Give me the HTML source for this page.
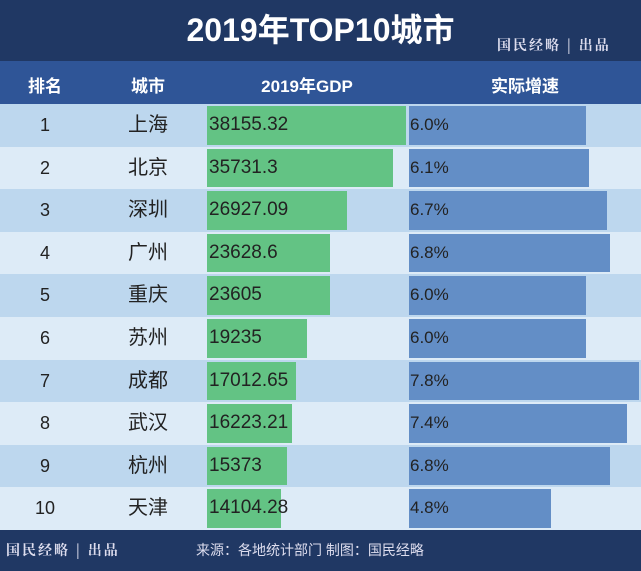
<!DOCTYPE html>
<html><head><meta charset="utf-8">
<style>
body{margin:0;width:641px;height:571px;overflow:hidden;background:#fff;font-family:"Liberation Sans","Noto Sans CJK SC",sans-serif;}
#wrap{position:relative;width:641px;height:571px;}
.abs{position:absolute;}
</style></head><body>
<div id="wrap">
  <div class="abs" style="left:0;top:0;width:641px;height:61px;background:#203864;"></div>
  <div class="abs" style="left:0;top:10px;width:641px;text-align:center;color:#fff;font-size:32px;line-height:40px;font-weight:bold;">2019年TOP10城市</div>
  <div class="abs" style="left:497px;top:36px;color:#dde;font-size:14px;line-height:18px;font-family:'Noto Serif CJK SC',serif;font-weight:bold;letter-spacing:2px;">国民经略 | 出品</div>
  <div class="abs" style="left:0;top:61px;width:641px;height:43px;background:#2f5597;"></div>
  <div class="abs" style="left:0;top:72px;width:90px;text-align:center;color:#fff;font-size:17px;font-weight:bold;">排名</div>
  <div class="abs" style="left:100px;top:72px;width:96px;text-align:center;color:#fff;font-size:17px;font-weight:bold;">城市</div>
  <div class="abs" style="left:207px;top:72px;width:200px;text-align:center;color:#fff;font-size:17px;font-weight:bold;">2019年GDP</div>
  <div class="abs" style="left:409px;top:72px;width:232px;text-align:center;color:#fff;font-size:17px;font-weight:bold;">实际增速</div>
  <div id="rows"></div>
  <div class="abs" style="left:0;top:530px;width:641px;height:41px;background:#203864;"></div>
  <div class="abs" style="left:6px;top:541px;color:#dde;font-size:14px;line-height:18px;font-family:'Noto Serif CJK SC',serif;font-weight:bold;letter-spacing:2px;">国民经略 | 出品</div>
  <div class="abs" style="left:196px;top:540px;color:#dde;font-size:14px;line-height:20px;">来源：各地统计部门 制图：国民经略</div>
</div>
<script>
const ranks=["1","2","3","4","5","6","7","8","9","10"];
const cities=["上海","北京","深圳","广州","重庆","苏州","成都","武汉","杭州","天津"];
const gdpLabels=["38155.32","35731.3","26927.09","23628.6","23605","19235","17012.65","16223.21","15373","14104.28"];
const gdpValues=[38155.32,35731.3,26927.09,23628.6,23605,19235,17012.65,16223.21,15373,14104.28];
const growthValues=[6.0,6.1,6.7,6.8,6.0,6.0,7.8,7.4,6.8,4.8];
const gdpX=v=>v*199/38155.32;
const grX=v=>v*230/7.8;
const rows=document.getElementById('rows');
const top0=104,rh=42.6;
function mk(style,txt){const d=document.createElement('div');d.className='abs';d.style.cssText=style;if(txt!==undefined)d.textContent=txt;rows.appendChild(d);return d;}
for(let i=0;i<ranks.length;i++){
  const y=top0+i*rh;
  let e=mk(`left:0;top:${y}px;width:641px;height:${rh}px;background:${i%2?'#ddebf7':'#bdd7ee'};`);
  
  
  e=mk(`left:0;top:${y+2}px;width:90px;height:${rh-4}px;line-height:${rh-4}px;text-align:center;font-size:18px;color:#222;`,ranks[i]);
  
  
  e=mk(`left:100px;top:${y+2}px;width:96px;height:${rh-4}px;line-height:${rh-4}px;text-align:center;font-size:20px;color:#222;`,cities[i]);
  
  
  e=mk(`left:207px;top:${y+2}px;width:${gdpX(gdpValues[i])}px;height:${rh-4}px;background:#63c384;`);
  
  
  e=mk(`left:209px;top:${y+2}px;height:${rh-4}px;line-height:${rh-4}px;font-size:19px;color:#222;white-space:nowrap;`,gdpLabels[i]);
  
  
  e=mk(`left:409px;top:${y+2}px;width:${grX(growthValues[i])}px;height:${rh-4}px;background:#638ec6;`);
  
  
  e=mk(`left:410px;top:${y+2}px;height:${rh-4}px;line-height:${rh-4}px;font-size:17px;color:#222;white-space:nowrap;`,growthValues[i].toFixed(1)+'%');
  
  
}
</script>
</body></html>
